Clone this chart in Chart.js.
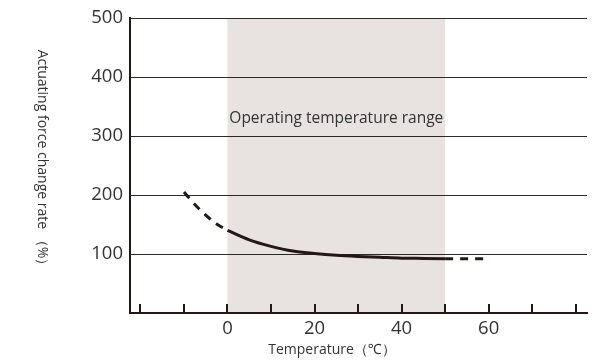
<!DOCTYPE html>
<html>
<head>
<meta charset="utf-8">
<script src="https://cdn.jsdelivr.net/npm/chart.js@4/dist/chart.umd.min.js"></script>
<style>
  html, body { margin: 0; padding: 0; background: #fff; }
  #wrap { width: 598px; height: 360px; position: relative; }
</style>
</head>
<body>
<div id="wrap"><canvas id="c" width="598" height="360"></canvas></div>
<script>
// ---- data ----
const lowTempX   = [-10, -7.5, -5, -2.5, 0];
const lowTempY   = [205, 184, 166, 151, 140];
const mainX      = [0, 5, 10, 15, 20, 25, 30, 35, 40, 45, 50];
const mainY      = [140, 124, 113, 105, 101, 98, 96, 94.5, 93, 92.5, 92];
const highTempX  = [50, 55, 60];
const highTempY  = [92, 92, 92];
const xTickValues = [-20, -10, 0, 10, 20, 30, 40, 50, 60, 70, 80];
const xTickLabels = ['', '', '0', '', '20', '', '40', '', '60', '', ''];
const yTickValues = [0, 100, 200, 300, 400, 500];
const yTickLabels = ['', '100', '200', '300', '400', '500'];
const operatingRange = [0, 50];
const bandLabel = 'Operating temperature range';
const xTitle = 'Temperature（℃）';
const yTitle = 'Actuating force change rate （%）';

const FONT = '"Open Sans", "Noto Sans", sans-serif';
const INK = '#231815';
const TXT = '#333333';

const toPts = (xs, ys) => xs.map((x, i) => ({ x: x, y: ys[i] }));

const decor = {
  id: 'decor',
  beforeDraw(chart) {
    const { ctx, chartArea: a, scales: { x } } = chart;
    const x0 = x.getPixelForValue(operatingRange[0]);
    const x1 = x.getPixelForValue(operatingRange[1]);
    ctx.save();
    ctx.fillStyle = '#e8e3e0';
    ctx.fillRect(x0, a.top, x1 - x0, a.bottom - a.top);
    ctx.restore();
  },
  afterDraw(chart) {
    const { ctx, chartArea: a, scales: { x, y } } = chart;
    ctx.save();
    // inward tick marks on the x axis
    ctx.strokeStyle = INK;
    ctx.lineWidth = 2;
    xTickValues.forEach(v => {
      const px = Math.round(x.getPixelForValue(v));
      ctx.beginPath();
      ctx.moveTo(px, a.bottom);
      ctx.lineTo(px, a.bottom - 9);
      ctx.stroke();
    });
    // band label
    ctx.fillStyle = TXT;
    ctx.font = '400 15.5px ' + FONT;
    ctx.textAlign = 'center';
    ctx.textBaseline = 'middle';
    const cx = (x.getPixelForValue(operatingRange[0]) + x.getPixelForValue(operatingRange[1])) / 2;
    ctx.fillText(bandLabel, cx, y.getPixelForValue(330));
    // x title
    ctx.font = '400 14px ' + FONT;
    ctx.fillText(xTitle, 332, 350);
    // y title (reads top to bottom)
    ctx.font = '400 14px ' + FONT;
    ctx.translate(42, 161);
    ctx.rotate(Math.PI / 2);
    ctx.fillText(yTitle, 0, 0);
    ctx.restore();
  }
};

const lineStyle = { borderColor: INK, borderWidth: 3, pointRadius: 0, cubicInterpolationMode: 'monotone', fill: false };

new Chart(document.getElementById('c'), {
  type: 'line',
  data: {
    datasets: [
      Object.assign({ data: toPts(lowTempX, lowTempY), borderDash: [8, 7] }, lineStyle),
      Object.assign({ data: toPts(mainX, mainY) }, lineStyle),
      Object.assign({ data: toPts(highTempX, highTempY), borderDash: [8, 7] }, lineStyle)
    ]
  },
  options: {
    responsive: false,
    animation: false,
    layout: { padding: { top: 16, right: 11, left: 0, bottom: 0 } },
    plugins: { legend: { display: false }, tooltip: { enabled: false } },
    scales: {
      x: {
        type: 'linear',
        min: -22.4,
        max: 82.6,
        afterBuildTicks(s) { s.ticks = xTickValues.map(v => ({ value: v })); },
        afterFit(s) { s.height = 47; },
        ticks: {
          autoSkip: false,
          maxRotation: 0,
          padding: 5,
          color: TXT,
          font: { family: FONT, size: 18.5, weight: '400' },
          callback: (v) => { const i = xTickValues.indexOf(v); return i >= 0 ? xTickLabels[i] : ''; }
        },
        grid: { display: false, drawTicks: false },
        border: { display: true, color: INK, width: 2 }
      },
      y: {
        min: 0,
        max: 500,
        afterBuildTicks(s) { s.ticks = yTickValues.map(v => ({ value: v })); },
        afterFit(s) { s.width = 130; },
        ticks: {
          padding: 7,
          color: TXT,
          font: { family: FONT, size: 18.5, weight: '400' },
          callback: (v) => { const i = yTickValues.indexOf(v); return i >= 0 ? yTickLabels[i] : ''; }
        },
        grid: {
          drawTicks: false,
          color: (c) => c.tick && c.tick.value === 0 ? 'rgba(0,0,0,0)' : '#2a2a2a',
          lineWidth: 1
        },
        border: { display: true, color: INK, width: 2 }
      }
    }
  },
  plugins: [decor]
});
</script>
</body>
</html>
